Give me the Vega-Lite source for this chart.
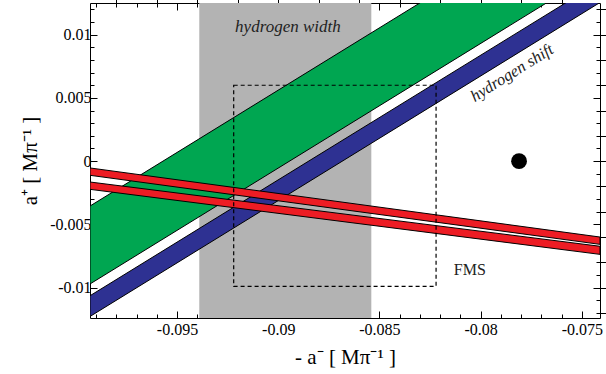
{
  "$schema": "https://vega.github.io/schema/vega-lite/v6.json",
  "width": 510,
  "height": 315,
  "autosize": "none",
  "padding": {"left": 90, "top": 3, "right": 6, "bottom": 56},
  "background": "white",
  "config": {
    "view": {"stroke": "black", "strokeWidth": 1},
    "axis": {
      "grid": false,
      "domain": false,
      "labelFont": "Liberation Serif",
      "labelFontSize": 16,
      "labelColor": "black",
      "tickColor": "black",
      "tickWidth": 1,
      "titleFont": "Liberation Serif",
      "titleFontSize": 21,
      "titleFontWeight": "normal",
      "titleColor": "black",
      "labelOverlap": false,
      "labelFlush": false
    }
  },
  "layer": [
    {
      "data": {"values": [{"x": -0.0939, "x2": -0.0854, "y": -0.0124, "y2": 0.0125}]},
      "mark": {"type": "rect", "color": "#b3b3b3"},
      "encoding": {
        "x": {"field": "x", "type": "quantitative",
          "scale": {"domain": [-0.0993, -0.0741], "nice": false, "zero": false},
          "axis": {
            "orient": "bottom",
            "title": "- a⁻  [ Mπ⁻¹ ]",
            "titlePadding": 6,
            "values": [-0.099,-0.098,-0.097,-0.096,-0.095,-0.094,-0.093,-0.092,-0.091,-0.09,-0.089,-0.088,-0.087,-0.086,-0.085,-0.084,-0.083,-0.082,-0.081,-0.08,-0.079,-0.078,-0.077,-0.076,-0.075],
            "labelExpr": "abs(round(datum.value*1000)) % 5 == 0 ? (datum.value < 0 ? '-' : '') + format(abs(datum.value), '.3~f') : ''",
            "tickSize": {"condition": {"test": "abs(round(datum.value*1000)) % 5 == 0", "value": -7}, "value": -4},
            "labelPadding": 10
          }},
        "x2": {"field": "x2"},
        "y": {"field": "y", "type": "quantitative",
          "scale": {"domain": [-0.0124, 0.0125], "nice": false, "zero": false},
          "axis": {
            "orient": "left",
            "title": "a⁺  [ Mπ⁻¹ ]",
            "titlePadding": 9,
            "values": [-0.012,-0.011,-0.01,-0.009,-0.008,-0.007,-0.006,-0.005,-0.004,-0.003,-0.002,-0.001,0,0.001,0.002,0.003,0.004,0.005,0.006,0.007,0.008,0.009,0.01,0.011,0.012],
            "labelExpr": "abs(round(datum.value*1000)) % 5 == 0 ? (datum.value < 0 ? '-' : '') + format(abs(datum.value), '.3~f') : ''",
            "tickSize": {"condition": {"test": "abs(round(datum.value*1000)) % 5 == 0", "value": -7}, "value": -4},
            "labelPadding": 6
          }},
        "y2": {"field": "y2"}
      }
    },
    {
      "data": {"values": [
        {"band": "green", "x": -0.0993, "lo": -0.00971, "hi": -0.00355},
        {"band": "green", "x": -0.0741, "lo": 0.01511, "hi": 0.02127},
        {"band": "blue", "x": -0.0993, "lo": -0.01228, "hi": -0.01064},
        {"band": "blue", "x": -0.0741, "lo": 0.01254, "hi": 0.01418}
      ]},
      "mark": {"type": "area", "clip": true, "stroke": "black", "strokeWidth": 1, "fillOpacity": 1},
      "encoding": {
        "x": {"field": "x", "type": "quantitative"},
        "y": {"field": "lo", "type": "quantitative"},
        "y2": {"field": "hi"},
        "color": {"field": "band", "type": "nominal", "legend": null,
          "scale": {"domain": ["green", "blue"], "range": ["#00a651", "#2e3192"]}}
      }
    },
    {
      "data": {"values": [
        {"band": "r1", "x": -0.0993, "lo": -0.00112, "hi": -0.00054},
        {"band": "r1", "x": -0.0741, "lo": -0.00658, "hi": -0.0060},
        {"band": "r2", "x": -0.0993, "lo": -0.00223, "hi": -0.00165},
        {"band": "r2", "x": -0.0741, "lo": -0.00737, "hi": -0.00673}
      ]},
      "mark": {"type": "area", "clip": true, "color": "#ed1c24", "stroke": "black", "strokeWidth": 1, "fillOpacity": 1},
      "encoding": {
        "x": {"field": "x", "type": "quantitative"},
        "y": {"field": "lo", "type": "quantitative"},
        "y2": {"field": "hi"},
        "detail": {"field": "band"}
      }
    },
    {
      "data": {"values": [{"x": -0.0922, "x2": -0.0822, "y": -0.0099, "y2": 0.0060}]},
      "mark": {"type": "rect", "fill": null, "fillOpacity": 0, "stroke": "black", "strokeWidth": 1.2, "strokeDash": [4, 3]},
      "encoding": {
        "x": {"field": "x", "type": "quantitative"},
        "x2": {"field": "x2"},
        "y": {"field": "y", "type": "quantitative"},
        "y2": {"field": "y2"}
      }
    },
    {
      "data": {"values": [{"x": -0.0781, "y": 0.0}]},
      "mark": {"type": "point", "filled": true, "color": "black", "size": 250, "opacity": 1},
      "encoding": {
        "x": {"field": "x", "type": "quantitative", "axis": {"orient": "top", "labels": false, "title": null,
          "values": [-0.099,-0.098,-0.097,-0.096,-0.095,-0.094,-0.093,-0.092,-0.091,-0.09,-0.089,-0.088,-0.087,-0.086,-0.085,-0.084,-0.083,-0.082,-0.081,-0.08,-0.079,-0.078,-0.077,-0.076,-0.075],
          "tickSize": {"condition": {"test": "abs(round(datum.value*1000)) % 5 == 0", "value": -7}, "value": -4}}},
        "y": {"field": "y", "type": "quantitative", "axis": {"orient": "right", "labels": false, "title": null,
          "values": [-0.012,-0.011,-0.01,-0.009,-0.008,-0.007,-0.006,-0.005,-0.004,-0.003,-0.002,-0.001,0,0.001,0.002,0.003,0.004,0.005,0.006,0.007,0.008,0.009,0.01,0.011,0.012],
          "tickSize": {"condition": {"test": "abs(round(datum.value*1000)) % 5 == 0", "value": -7}, "value": -4}}}
      }
    },
    {
      "data": {"values": [{"label": "hydrogen width", "x": -0.08952, "y": 0.0106}]},
      "mark": {"type": "text", "font": "Liberation Serif", "fontStyle": "italic", "fontSize": 17, "color": "#222"},
      "encoding": {
        "x": {"field": "x", "type": "quantitative"},
        "y": {"field": "y", "type": "quantitative"},
        "text": {"field": "label"}
      }
    },
    {
      "data": {"values": [{"label": "hydrogen shift", "x": -0.07845, "y": 0.00697}]},
      "mark": {"type": "text", "font": "Liberation Serif", "fontStyle": "italic", "fontSize": 16.5, "angle": 328, "color": "#222"},
      "encoding": {
        "x": {"field": "x", "type": "quantitative"},
        "y": {"field": "y", "type": "quantitative"},
        "text": {"field": "label"}
      }
    },
    {
      "data": {"values": [{"label": "FMS", "x": -0.08053, "y": -0.00861}]},
      "mark": {"type": "text", "font": "Liberation Serif", "fontSize": 16, "color": "#222"},
      "encoding": {
        "x": {"field": "x", "type": "quantitative"},
        "y": {"field": "y", "type": "quantitative"},
        "text": {"field": "label"}
      }
    }
  ]
}
